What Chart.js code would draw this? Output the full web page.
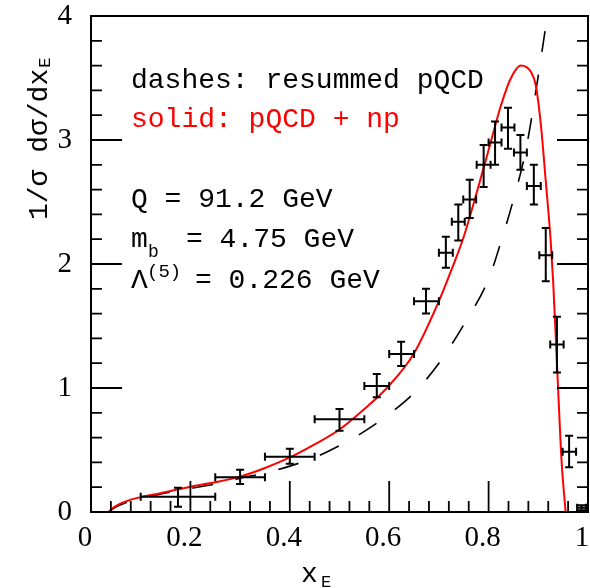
<!DOCTYPE html>
<html>
<head>
<meta charset="utf-8">
<script src="https://cdn.jsdelivr.net/npm/chart.js@4/dist/chart.umd.min.js"></script>
<style>
  body { margin: 0; background: #fff; }
  canvas { display: block; }
</style>
</head>
<body>
<canvas id="xeChart" width="590" height="588"></canvas>
<script>
// tick values / labels
const xTicks = [0, 0.2, 0.4, 0.6, 0.8, 1];
const xTickLabels = ["0", "0.2", "0.4", "0.6", "0.8", "1"];
const yTicks = [0, 1, 2, 3, 4];
const yTickLabels = ["0", "1", "2", "3", "4"];

// solid: pQCD + np
const solidX = [0.035, 0.045, 0.06, 0.08, 0.1, 0.14, 0.2, 0.25, 0.3, 0.35, 0.4, 0.45, 0.5, 0.55, 0.6, 0.65, 0.7, 0.725, 0.75, 0.775, 0.8, 0.825, 0.845, 0.865, 0.885, 0.895, 0.905, 0.915, 0.925, 0.93, 0.935, 0.94, 0.947, 0.955];
const solidY = [0, 0.035, 0.07, 0.1, 0.12, 0.152, 0.204, 0.24, 0.285, 0.355, 0.44, 0.545, 0.665, 0.83, 1.02, 1.28, 1.70, 1.95, 2.22, 2.56, 2.92, 3.28, 3.50, 3.60, 3.55, 3.44, 3.13, 2.67, 2.18, 1.85, 1.42, 0.98, 0.40, 0];

// dashes: resummed pQCD
const dashX = [0.035, 0.05, 0.07, 0.1, 0.14, 0.2, 0.25, 0.3, 0.35, 0.4, 0.45, 0.5, 0.55, 0.6, 0.65, 0.7, 0.75, 0.8, 0.825, 0.85, 0.875, 0.9, 0.915, 0.925];
const dashY = [0, 0.04, 0.075, 0.11, 0.145, 0.19, 0.225, 0.272, 0.315, 0.37, 0.44, 0.535, 0.65, 0.79, 0.96, 1.20, 1.51, 1.88, 2.18, 2.52, 2.92, 3.52, 3.92, 4.2];

// data points with errors
const ptX   = [0.175, 0.30, 0.40, 0.50, 0.575, 0.624, 0.674, 0.714, 0.739, 0.762, 0.790, 0.813, 0.839, 0.864, 0.891, 0.915, 0.9375, 0.962, 0.987];
const ptY   = [0.123, 0.28, 0.446, 0.747, 1.016, 1.274, 1.70, 2.09, 2.34, 2.52, 2.80, 2.98, 3.10, 2.90, 2.63, 2.07, 1.35, 0.486, 0.035];
const ptXLo = [0.10, 0.25, 0.35, 0.45, 0.55, 0.60, 0.65, 0.70, 0.726, 0.749, 0.776, 0.80, 0.826, 0.851, 0.877, 0.902, 0.924, 0.949, 0.978];
const ptXHi = [0.25, 0.35, 0.45, 0.55, 0.60, 0.65, 0.70, 0.728, 0.752, 0.775, 0.804, 0.826, 0.852, 0.877, 0.905, 0.928, 0.951, 0.976, 0.996];
const ptYLo = [0.043, 0.226, 0.39, 0.656, 0.925, 1.177, 1.60, 1.97, 2.19, 2.37, 2.62, 2.80, 2.93, 2.76, 2.48, 1.86, 1.124, 0.36, 0.015];
const ptYHi = [0.196, 0.34, 0.51, 0.83, 1.113, 1.373, 1.80, 2.22, 2.48, 2.68, 2.96, 3.15, 3.26, 3.04, 2.80, 2.29, 1.575, 0.615, 0.055];

const MONO = '"Liberation Mono", monospace';

// frame + inward tick marks (left, right, bottom)
const frameTicks = {
    id: 'frameTicks',
    afterDraw(chart) {
        const {ctx, chartArea: a, scales: {x, y}} = chart;
        ctx.save();
        ctx.strokeStyle = '#000';
        ctx.lineWidth = 1.8;
        for (let i = 1; i < 20; i++) {
            const py = y.getPixelForValue(i * 0.2);
            const len = i % 5 === 0 ? 31 : 11;
            ctx.beginPath();
            ctx.moveTo(a.left, py); ctx.lineTo(a.left + len, py);
            ctx.moveTo(a.right, py); ctx.lineTo(a.right - len, py);
            ctx.stroke();
        }
        for (let i = 1; i < 25; i++) {
            const px = x.getPixelForValue(i * 0.04);
            const len = i % 5 === 0 ? 31 : 11;
            ctx.beginPath();
            ctx.moveTo(px, a.bottom); ctx.lineTo(px, a.bottom - len);
            ctx.stroke();
        }
        ctx.lineWidth = 2;
        ctx.strokeRect(a.left, a.top, a.right - a.left, a.bottom - a.top);
        ctx.restore();
    }
};

// error bars drawn through the scales
const errorBars = {
    id: 'errorBars',
    afterDatasetsDraw(chart) {
        const {ctx, scales: {x, y}} = chart;
        const cap = 4;
        ctx.save();
        ctx.strokeStyle = '#000';
        ctx.lineWidth = 2;
        ptX.forEach((v, i) => {
            const cx = x.getPixelForValue(v), cy = y.getPixelForValue(ptY[i]);
            const x0 = x.getPixelForValue(ptXLo[i]), x1 = x.getPixelForValue(ptXHi[i]);
            const y0 = y.getPixelForValue(ptYLo[i]), y1 = y.getPixelForValue(ptYHi[i]);
            ctx.beginPath();
            ctx.moveTo(x0, cy); ctx.lineTo(x1, cy);
            ctx.moveTo(x0, cy - cap); ctx.lineTo(x0, cy + cap);
            ctx.moveTo(x1, cy - cap); ctx.lineTo(x1, cy + cap);
            ctx.moveTo(cx, y0); ctx.lineTo(cx, y1);
            ctx.moveTo(cx - cap, y0); ctx.lineTo(cx + cap, y0);
            ctx.moveTo(cx - cap, y1); ctx.lineTo(cx + cap, y1);
            ctx.stroke();
        });
        ctx.restore();
    }
};

// annotations and axis titles
const labels = {
    id: 'labels',
    afterDraw(chart) {
        const ctx = chart.ctx;
        ctx.save();
        ctx.textBaseline = 'alphabetic';
        ctx.textAlign = 'left';
        ctx.font = '28px ' + MONO;
        ctx.fillStyle = '#000';
        ctx.fillText('dashes: resummed pQCD', 131, 88);
        ctx.fillStyle = '#ff0000';
        ctx.fillText('solid: pQCD + np', 131, 127);
        ctx.fillStyle = '#000';
        ctx.fillText('Q = 91.2 GeV', 131, 207);
        ctx.fillText('m', 131, 247);
        ctx.fillText('= 4.75 GeV', 186, 247);
        ctx.fillText('\u039B', 131, 288);
        ctx.fillText('= 0.226 GeV', 195, 288);
        ctx.font = '18px ' + MONO;
        ctx.fillText('b', 148, 257);
        ctx.font = '19px ' + MONO;
        ctx.fillText('(5)', 147, 277);

        // x title
        ctx.font = '28px ' + MONO;
        ctx.fillText('x', 301, 582);
        ctx.font = '17px ' + MONO;
        ctx.fillText('E', 321, 587);

        // y title
        ctx.translate(47, 220);
        ctx.rotate(-Math.PI / 2);
        ctx.font = '28px ' + MONO;
        const main = '1/\u03C3 d\u03C3/dx';
        ctx.fillText(main, 0, 0);
        const w = ctx.measureText(main).width;
        ctx.font = '17px ' + MONO;
        ctx.fillText('E', w + 1, 3);
        ctx.restore();
    }
};

const pts = (xs, ys) => xs.map((v, i) => ({x: v, y: ys[i]}));

new Chart(document.getElementById('xeChart'), {
    type: 'line',
    data: {
        datasets: [{
            label: 'solid: pQCD + np',
            data: pts(solidX, solidY),
            borderColor: '#ff0000',
            borderWidth: 2,
            pointRadius: 0,
            cubicInterpolationMode: 'monotone',
            fill: false
        }, {
            label: 'dashes: resummed pQCD',
            data: pts(dashX, dashY),
            borderColor: '#000',
            borderWidth: 1.6,
            borderDash: [21, 23],
            pointRadius: 0,
            cubicInterpolationMode: 'monotone',
            fill: false
        }]
    },
    options: {
        responsive: false,
        animation: false,
        devicePixelRatio: 1,
        layout: { padding: { top: 16, right: 2, left: 0, bottom: 0 } },
        plugins: { legend: { display: false }, tooltip: { enabled: false }, title: { display: false } },
        scales: {
            x: {
                type: 'linear',
                min: 0, max: 1,
                afterBuildTicks: s => { s.ticks = xTicks.map(v => ({value: v})); },
                afterFit: s => { s.height = 76; s.paddingLeft = 0; s.paddingRight = 0; },
                grid: { display: false },
                border: { display: false },
                ticks: {
                    callback: (v, i) => xTickLabels[i],
                    font: { family: 'Liberation Serif', size: 29 },
                    color: '#000',
                    padding: 1,
                    labelOffset: -6,
                    maxRotation: 0
                }
            },
            y: {
                type: 'linear',
                min: 0, max: 4,
                afterBuildTicks: s => { s.ticks = yTicks.map(v => ({value: v})); },
                afterFit: s => { s.width = 91; s.paddingTop = 0; s.paddingBottom = 0; },
                grid: { display: false },
                border: { display: false },
                ticks: {
                    callback: (v, i) => yTickLabels[i],
                    font: { family: 'Liberation Serif', size: 29 },
                    color: '#000',
                    padding: 11
                }
            }
        }
    },
    plugins: [frameTicks, errorBars, labels]
});
</script>
</body>
</html>
